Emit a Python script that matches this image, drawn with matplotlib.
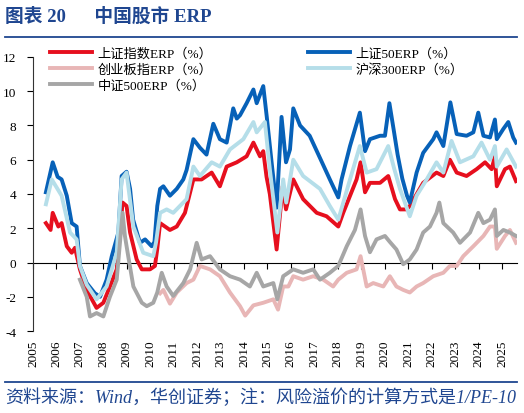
import matplotlib
matplotlib.use('Agg')
import matplotlib.pyplot as plt
from matplotlib.lines import Line2D

plt.rcParams['font.family'] = ['Liberation Serif', 'Noto Sans CJK SC']
plt.rcParams['axes.unicode_minus'] = False

# 上证指数ERP
sse_t = [2005.55, 2005.75, 2005.84, 2006.08, 2006.22, 2006.44, 2006.65, 2006.79, 2007.0, 2007.29,
         2007.71, 2008.0, 2008.28, 2008.57, 2008.82, 2008.99, 2009.14, 2009.42, 2009.64, 2009.99,
         2010.2, 2010.3, 2010.42, 2010.84, 2011.13, 2011.48, 2011.84, 2012.19, 2012.62, 2012.97,
         2013.26, 2013.69, 2014.11, 2014.4, 2014.68, 2014.82, 2014.96, 2015.1, 2015.39, 2015.65,
         2015.79, 2016.1, 2016.52, 2017.1, 2017.52, 2018.02, 2018.23, 2018.8, 2018.97, 2019.16,
         2019.37, 2019.8, 2020.15, 2020.44, 2020.65, 2020.93, 2021.07, 2021.64, 2022.21, 2022.5,
         2022.78, 2023.07, 2023.49, 2023.92, 2024.28, 2024.56, 2024.7, 2024.78, 2025.13, 2025.34,
         2025.6]
sse_v = [2.3, 1.9, 2.9, 2.1, 2.3, 0.95, 0.57, 0.86, -0.4, -1.6,
         -2.65, -2.35, -1.4, -0.4, 3.5, 3.3, 1.75, 0.18, -0.4, -0.4,
         -0.2, 0.8, 2.3, 1.9, 2.1, 2.9, 4.85, 4.85, 5.25, 4.45,
         5.6, 5.85, 6.2, 7.0, 6.2, 6.5, 5.0, 4.0, 0.76, 4.45,
         3.1, 4.85, 3.7, 2.9, 2.7, 2.1, 2.9, 4.85, 5.85, 4.1,
         4.65, 4.65, 5.05, 3.7, 3.1, 3.1, 3.3, 4.65, 5.25, 5.05,
         6.0, 5.25, 5.05, 5.45, 5.85, 5.45, 6.2, 4.45, 5.45, 5.6,
         4.75]

# 上证50ERP
sz50_t = [2005.55, 2005.84, 2006.05, 2006.22, 2006.44, 2006.65, 2006.86, 2007.0, 2007.29, 2007.64,
          2007.86, 2008.14, 2008.36, 2008.64, 2008.78, 2008.99, 2009.14, 2009.27, 2009.56, 2009.78,
          2010.06, 2010.18, 2010.3, 2010.42, 2010.56, 2010.84, 2011.13, 2011.41, 2011.55, 2011.84,
          2012.12, 2012.4, 2012.69, 2012.97, 2013.26, 2013.54, 2013.69, 2013.83, 2014.11, 2014.4,
          2014.54, 2014.82, 2014.97, 2015.18, 2015.39, 2015.6, 2015.79, 2015.96, 2016.1, 2016.39,
          2016.8, 2017.24, 2017.66, 2018.02, 2018.16, 2018.52, 2018.94, 2019.16, 2019.37, 2019.8,
          2020.01, 2020.2, 2020.4, 2020.55, 2020.75, 2020.95, 2021.07, 2021.36, 2021.64, 2022.07,
          2022.21, 2022.5, 2022.8, 2023.07, 2023.49, 2023.78, 2023.99, 2024.21, 2024.49, 2024.7,
          2024.78, 2025.06, 2025.27, 2025.48, 2025.6]
sz50_v = [4.1, 5.85, 5.0, 4.85, 3.9, 2.3, 2.1, -0.2, -1.2, -1.8,
          -2.0, -1.0, 0.37, 1.75, 5.05, 5.3, 4.3, 2.5, 1.15, 1.35,
          0.95, 1.2, 3.3, 4.3, 4.45, 3.9, 4.3, 4.85, 5.4, 7.2,
          6.7, 6.3, 8.1, 7.2, 7.0, 9.0, 8.4, 8.6, 9.3, 10.1,
          9.3, 10.3, 8.5, 5.8, 3.2, 8.5, 5.85, 6.6, 9.0, 8.0,
          7.4, 6.1, 4.85, 3.8, 4.85, 6.8, 8.75, 6.5, 7.2, 7.4,
          7.4, 9.3, 7.6, 6.3, 4.9, 3.9, 3.5, 5.25, 6.4, 7.2,
          7.6, 6.8, 9.35, 7.5, 7.4, 7.6, 8.75, 7.4, 7.3, 8.35,
          7.2, 7.8, 8.2, 7.3, 7.0]

# 创业板指ERP
cyb_t = [2010.42, 2010.56, 2010.84, 2011.13, 2011.55, 2011.84, 2012.12, 2012.55, 2012.97, 2013.4,
         2013.83, 2014.05, 2014.4, 2014.82, 2015.25, 2015.45, 2015.67, 2015.89, 2016.1, 2016.52,
         2016.95, 2017.38, 2017.8, 2018.02, 2018.38, 2018.8, 2018.97, 2019.23, 2019.51, 2019.94,
         2020.22, 2020.5, 2020.79, 2021.07, 2021.36, 2021.64, 2022.07, 2022.5, 2022.78, 2023.07,
         2023.35, 2023.78, 2024.21, 2024.49, 2024.7, 2024.78, 2025.13, 2025.34, 2025.6]
cyb_v = [-1.8, -1.6, -2.4, -1.75, -1.2, -1.0, -0.2, -0.4, -0.8, -1.75,
         -2.55, -3.1, -2.5, -2.35, -2.15, -2.75, -1.4, -1.4, -0.8, -1.0,
         -0.8, -1.0, -1.4, -1.0, -0.6, -0.4, 0.37, -1.4, -1.2, -1.4,
         -0.8, -1.4, -1.6, -1.75, -1.4, -1.2, -0.8, -0.6, -0.2, -0.2,
         0.37, 0.95, 1.55, 2.1, 2.1, 0.8, 1.55, 1.9, 1.15]

# 沪深300ERP
hs300_t = [2005.55, 2005.8, 2006.22, 2006.58, 2006.86, 2007.0, 2007.29, 2007.71, 2008.14, 2008.57,
           2008.78, 2008.99, 2009.28, 2009.7, 2010.13, 2010.25, 2010.42, 2010.7, 2010.98, 2011.55,
           2011.84, 2012.12, 2012.62, 2012.97, 2013.4, 2013.97, 2014.4, 2014.54, 2014.89, 2015.1,
           2015.42, 2015.67, 2015.8, 2016.1, 2016.52, 2017.24, 2017.66, 2018.02, 2018.52, 2018.94,
           2019.23, 2019.65, 2020.15, 2020.4, 2020.65, 2021.07, 2021.36, 2021.79, 2022.21, 2022.5,
           2022.85, 2023.21, 2023.78, 2024.13, 2024.49, 2024.7, 2024.78, 2025.2, 2025.6]
hs300_v = [3.4, 4.85, 3.9, 1.75, 1.35, -0.2, -1.3, -2.15, -1.4, 0.57,
           4.85, 5.25, 2.1, 0.57, 0.37, 1.2, 2.9, 3.1, 2.9, 3.7,
           5.6, 5.05, 5.85, 5.6, 6.6, 7.2, 8.2, 7.6, 8.2, 5.45,
           1.75, 4.85, 3.5, 6.0, 5.05, 4.3, 3.3, 2.5, 4.85, 6.8,
           5.25, 5.45, 6.8, 5.5, 4.3, 2.7, 3.9, 4.85, 5.85, 5.25,
           7.1, 5.85, 6.2, 7.0, 6.0, 6.8, 5.6, 6.6, 5.6]

# 中证500ERP
zz500_t = [2007.0, 2007.29, 2007.43, 2007.71, 2008.0, 2008.28, 2008.57, 2008.82, 2008.92, 2009.06,
           2009.28, 2009.64, 2009.85, 2010.13, 2010.3, 2010.49, 2010.7, 2010.98, 2011.41, 2011.7,
           2011.98, 2012.19, 2012.55, 2012.97, 2013.4, 2013.83, 2014.25, 2014.54, 2014.82, 2015.25,
           2015.42, 2015.67, 2016.1, 2016.52, 2016.95, 2017.24, 2017.66, 2018.02, 2018.38, 2018.73,
           2018.97, 2019.16, 2019.37, 2019.65, 2020.01, 2020.22, 2020.5, 2020.79, 2021.07, 2021.36,
           2021.64, 2021.93, 2022.21, 2022.33, 2022.5, 2022.92, 2023.21, 2023.64, 2023.99, 2024.21,
           2024.49, 2024.7, 2024.78, 2025.06, 2025.34, 2025.6]
zz500_v = [-1.0, -2.0, -3.15, -2.95, -3.15, -2.0, -1.0, 2.9, 1.55, 0.37,
           -1.4, -2.35, -2.55, -2.35, -1.75, -0.6, -1.4, -1.95, -1.2, -0.4,
           1.15, 0.18, 0.37, -0.4, -0.8, -1.0, -1.4, -0.6, -1.4, -1.2,
           -2.15, -0.8, -0.4, -0.6, -0.4, -1.0, -0.6, -0.2, 0.95, 1.9,
           3.1, 1.55, 0.6, 1.35, 1.55, 1.2, 0.76, -0.1, 0.18, 0.76,
           1.75, 2.1, 2.9, 3.5, 2.3, 1.75, 1.15, 1.75, 2.9, 2.3,
           2.5, 3.1, 1.55, 1.9, 1.75, 1.55]

years = list(range(2005, 2026))
navy = '#1F4690'

fig = plt.figure(figsize=(5.24, 4.14), dpi=100)
ax = fig.add_axes([0.063, 0.198, 0.924, 0.662])

lw = 2.8
l_sse, = ax.plot(sse_t, sse_v, color='#E60F1E', lw=lw, label='上证指数ERP（%）')
l_50, = ax.plot(sz50_t, sz50_v, color='#0761B8', lw=lw, label='上证50ERP（%）')
l_cyb, = ax.plot(cyb_t, cyb_v, color='#E8B6B6', lw=lw, label='创业板指ERP（%）')
l_300, = ax.plot(hs300_t, hs300_v, color='#B5DEE9', lw=lw, label='沪深300ERP（%）')
l_500, = ax.plot(zz500_t, zz500_v, color='#A6A6A6', lw=lw, label='中证500ERP（%）')

ax.set_xlim(2005, 2025.65)
ax.set_ylim(-4, 12)
ax.set_yticks(range(-4, 13, 2))
ax.set_xticks(years)
ax.set_xticklabels([str(y) for y in years], rotation=90)
ax.tick_params(axis='x', length=0, pad=6, labelsize=9.5)
ax.tick_params(axis='y', direction='out', length=4, pad=8, labelsize=9.5)
for s in ['top', 'right', 'bottom']:
    ax.spines[s].set_visible(False)
ax.spines['left'].set_color('#333333')

# zero line carrying the year ticks
zero = ax.secondary_xaxis(0.25)
zero.set_xticks(years)
zero.set_xticklabels([])
zero.tick_params(direction='out', length=4, color='black')
zero.spines['bottom'].set_color('black')

leg_style = dict(loc='upper left', frameon=False, fontsize=9.5, handlelength=3.2,
                 handletextpad=0.4, labelspacing=0.25, borderaxespad=0, borderpad=0)
leg1 = ax.legend(handles=[l_sse, l_cyb, l_500], bbox_to_anchor=(0.035, 1.035), **leg_style)
ax.add_artist(leg1)
ax.legend(handles=[l_50, l_300], bbox_to_anchor=(0.568, 1.035), **leg_style)

fig.text(0.01, 1 - 17 / 414, '图表 20      中国股市 ERP', fontsize=13.5, fontweight='bold',
         color=navy, va='center', ha='left')
fig.add_artist(Line2D([0.01, 0.987], [1 - 38 / 414, 1 - 38 / 414], color=navy, lw=1.3))
fig.add_artist(Line2D([0.01, 0.987], [1 - 383 / 414, 1 - 383 / 414], color=navy, lw=1.3))
fig.text(0.01, 1 - 398 / 414, '资料来源：Wind，华创证券；注：风险溢价的计算方式是1/PE-10',
         fontsize=13, style='italic', color=navy, va='center', ha='left')

fig.savefig('out.png', dpi=100)
